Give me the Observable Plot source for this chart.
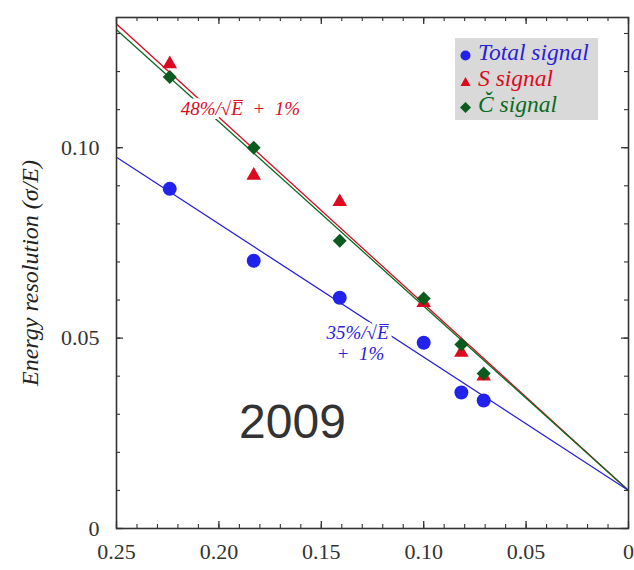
<!DOCTYPE html>
<html>
<head>
<meta charset="utf-8">
<script src="https://cdn.jsdelivr.net/npm/d3@7"></script>
<script src="https://cdn.jsdelivr.net/npm/@observablehq/plot@0.6"></script>
<style>
  body { margin: 0; background: #fff; }
  #wrap { position: relative; width: 634px; height: 570px; }
  #legend { position: absolute; left: 455px; top: 38px; width: 143px; height: 82px; background: #d9d9d9;
            font-family: 'Liberation Serif'; font-style: italic; font-size: 23.5px; }
  #legend .row { position: absolute; left: 5px; height: 26px; line-height: 26px; white-space: nowrap; }
  #legend svg { vertical-align: -1px; margin-right: 7px; }
</style>
</head>
<body>
<div id="wrap"></div>
<script>
// ---- data ----
const invSqrtE   = [0.224, 0.183, 0.141, 0.100, 0.0816, 0.0707];   // 1/sqrt(E) for E = 20,30,50,100,150,200 GeV
const totalRes   = [0.0892, 0.0703, 0.0606, 0.0488, 0.0357, 0.0336];
const sRes       = [0.1220, 0.0927, 0.0858, 0.0593, 0.0462, 0.0400];
const cRes       = [0.1186, 0.1000, 0.0756, 0.0604, 0.0483, 0.0407];

const seriesNames  = ["Total signal", "S signal", "Č signal"];
const seriesColors = ["#2a22d8", "#dc0a1e", "#0b6a22"];
const markerColors = ["#2222ee", "#dc0a1e", "#0b5a1e"];
const fitSlopes    = [0.35, 0.49, 0.484];   // stochastic term
const fitConstant  = 0.01;                  // constant term

const xTicksMajor  = [0.25, 0.20, 0.15, 0.10, 0.05, 0];
const xTickLabels  = ["0.25", "0.20", "0.15", "0.10", "0.05", "0"];
const xTicksMinor  = d3.range(0, 26).map(i => i / 100);
const yTicksMajor  = [0, 0.05, 0.10];
const yTickLabels  = ["0", "0.05", "0.10"];
const yTicksMinor  = d3.range(0, 14).map(i => i / 100);

const annotations = [
  {x: 0.1895, y: 0.1102, text: "48%/√E\u0305\u2002+\u20021%", color: seriesColors[1]},
  {x: 0.1323, y: 0.0514, text: "35%/√E\u0305",                color: seriesColors[0]},
  {x: 0.1309, y: 0.0459, text: "+\u20021%",                   color: seriesColors[0]}
];

// ---- build tables ----
const points = [];
[totalRes, sRes, cRes].forEach((arr, s) => arr.forEach((v, i) => points.push({series: s, x: invSqrtE[i], y: v})));
const fits = [];
fitSlopes.forEach((k, s) => [0.25, 0].forEach(x => fits.push({series: s, x, y: fitConstant + k * x})));

const W = 634, H = 570, mT = 17, mB = 42, mL = 116, mR = 6;
const frameH = H - mT - mB, frameW = W - mL - mR;
const axisColor = "#333";
const serif = "Liberation Serif";

const chart = Plot.plot({
  width: W, height: H,
  marginTop: mT, marginBottom: mB, marginLeft: mL, marginRight: mR,
  style: {fontFamily: serif, fontSize: "22px", color: axisColor, background: "white"},
  x: {domain: [0.25, 0], axis: null},
  y: {domain: [0, 0.1342], axis: null},
  marks: [
    // fit lines
    Plot.line(fits, {filter: d => d.series === 1, x: "x", y: "y", stroke: seriesColors[1], strokeWidth: 1.3}),
    Plot.line(fits, {filter: d => d.series === 2, x: "x", y: "y", stroke: seriesColors[2], strokeWidth: 1.3}),
    Plot.line(fits, {filter: d => d.series === 0, x: "x", y: "y", stroke: seriesColors[0], strokeWidth: 1.3}),
    // annotations with white halo that breaks the lines
    Plot.text(annotations, {x: "x", y: "y", text: "text", fill: d => d.color, stroke: "white", strokeWidth: 8, paintOrder: "stroke",
      fontSize: 19, fontStyle: "italic", fontFamily: serif}),
    // points
    Plot.dot(points, {filter: d => d.series === 0, x: "x", y: "y", r: 7, symbol: "circle", fill: markerColors[0]}),
    Plot.dot(points, {filter: d => d.series === 1, x: "x", y: "y", r: 5.4, symbol: "triangle", fill: markerColors[1]}),
    Plot.dot(points, {filter: d => d.series === 2, x: "x", y: "y", r: 6.3, symbol: "diamond2", fill: markerColors[2]}),
    // year
    Plot.text(["2009"], {frameAnchor: "top-left", dx: 292 - mL, dy: 422 - mT, text: d => d, textAnchor: "middle", lineAnchor: "middle",
      fontFamily: "Liberation Sans", fontSize: 48, fill: "#333"}),
    // ticks (inward, all four sides)
    Plot.tickX(xTicksMajor, {x: d => d, insetTop: frameH - 7, stroke: axisColor, strokeWidth: 1.3}),
    Plot.tickX(xTicksMinor, {x: d => d, insetTop: frameH - 4, stroke: axisColor, strokeWidth: 1.1}),
    Plot.tickX(xTicksMajor, {x: d => d, insetBottom: frameH - 7, stroke: axisColor, strokeWidth: 1.3}),
    Plot.tickX(xTicksMinor, {x: d => d, insetBottom: frameH - 4, stroke: axisColor, strokeWidth: 1.1}),
    Plot.tickY(yTicksMajor, {y: d => d, insetRight: frameW - 7, stroke: axisColor, strokeWidth: 1.3}),
    Plot.tickY(yTicksMinor, {y: d => d, insetRight: frameW - 4, stroke: axisColor, strokeWidth: 1.1}),
    Plot.tickY(yTicksMajor, {y: d => d, insetLeft: frameW - 7, stroke: axisColor, strokeWidth: 1.3}),
    Plot.tickY(yTicksMinor, {y: d => d, insetLeft: frameW - 4, stroke: axisColor, strokeWidth: 1.1}),
    Plot.frame({stroke: axisColor, strokeWidth: 1.6}),
    // tick labels
    Plot.axisX({ticks: xTicksMajor, tickSize: 0, tickPadding: 15, tickFormat: d => xTickLabels[xTicksMajor.indexOf(d)], label: null, fill: axisColor, fontFamily: serif}),
    Plot.axisY({ticks: yTicksMajor, tickSize: 0, tickPadding: 17, tickFormat: d => yTickLabels[yTicksMajor.indexOf(d)], label: null, fill: axisColor, fontFamily: serif}),
    // y title
    Plot.text(["Energy resolution (σ/E)"], {frameAnchor: "left", dx: -86, rotate: -90, text: d => d, textAnchor: "middle",
      fontSize: 24, fontStyle: "italic", fill: "#222", fontFamily: serif})
  ]
});

const wrap = document.getElementById("wrap");
wrap.appendChild(chart);

// legend overlay
const legend = document.createElement("div");
legend.id = "legend";
const shapes = [
  c => `<svg width="11" height="11"><circle cx="5.5" cy="5.5" r="5" fill="${c}"/></svg>`,
  c => `<svg width="11" height="11"><path d="M5.5,1 L10.5,10 L0.5,10 Z" fill="${c}"/></svg>`,
  c => `<svg width="11" height="11"><path d="M5.5,0 L11,5.5 L5.5,11 L0,5.5 Z" fill="${c}"/></svg>`
];
seriesNames.forEach((name, i) => {
  const row = document.createElement("div");
  row.className = "row";
  row.style.top = (1 + i * 26) + "px";
  row.style.color = seriesColors[i];
  row.innerHTML = shapes[i](markerColors[i]) + name;
  legend.appendChild(row);
});
wrap.appendChild(legend);
</script>
</body>
</html>
